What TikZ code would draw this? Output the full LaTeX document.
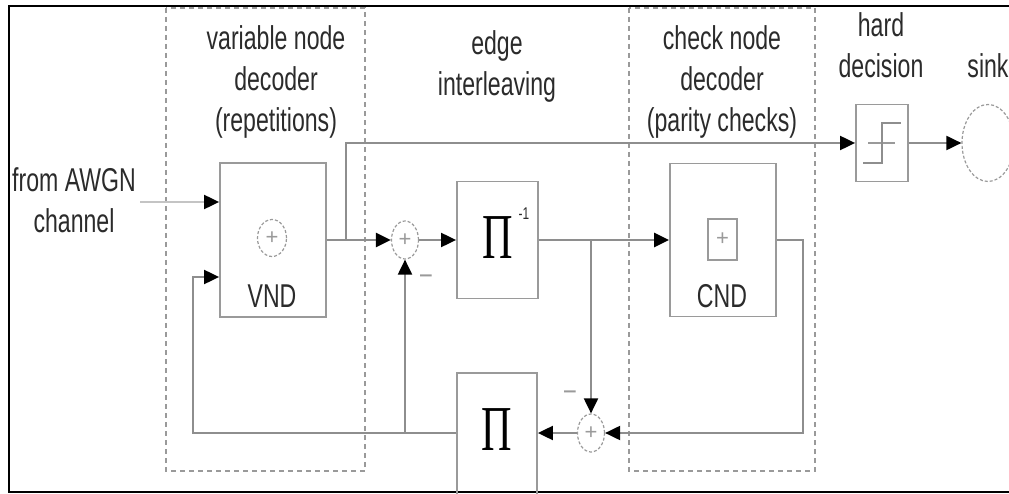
\documentclass[tikz,border=0pt]{standalone}
\usepackage{fontspec}
\usepackage{graphicx}
\setmainfont{Liberation Sans}[FakeStretch=0.70]
\newfontfamily\pifont{Liberation Serif}[FakeStretch=0.66]
\newfontfamily\plusfont{Liberation Sans}
\usetikzlibrary{shapes.geometric,arrows.meta}
\definecolor{linegray}{HTML}{8E8E8E}
\definecolor{boxgray}{HTML}{9A9A9A}
\definecolor{lightline}{HTML}{C4C4C4}
\definecolor{txt}{HTML}{2B2B2B}
\begin{document}
\begin{tikzpicture}[x=1pt,y=-1pt,
  conn/.style={draw=linegray,line width=2pt},
  arr/.style={conn,-{Triangle[black,length=15pt,width=14pt]}},
  block/.style={draw=boxgray,line width=1.8pt,rectangle,inner sep=0pt},
  sumnode/.style={ellipse,draw=boxgray,densely dashed,line width=1.2pt,minimum width=27pt,minimum height=38pt,inner sep=0pt,font=\plusfont\fontsize{22}{22}\selectfont,text=boxgray},
  group/.style={draw=boxgray,dash pattern=on 5pt off 4pt,line width=1.2pt},
  lbl/.style={text=txt,font=\fontsize{33}{41}\selectfont,align=center,inner sep=0pt,anchor=base},
  pisym/.style={text=black,font=\pifont\fontsize{64}{64}\selectfont,inner sep=0pt},
  minus/.style={text=boxgray,font=\fontsize{30}{30}\selectfont,inner sep=0pt}
]
\useasboundingbox (0,0) rectangle (1009,494);
\clip (0,0) rectangle (1009,494);
\fill[white] (0,0) rectangle (1009,494);
% frame
\draw[black,line width=2pt] (1020,6) -- (9,6) -- (9,492) -- (1020,492);
% group boxes
\draw[group] (166,8) rectangle (365,471);
\draw[group] (629,8) rectangle (815,471);
% blocks
\node[block,minimum width=106pt,minimum height=154pt] (vnd) at (273,240) {};
\node[block,minimum width=81pt,minimum height=117pt] (pinv) at (497.5,240) {};
\node[block,minimum width=106pt,minimum height=153pt] (cnd) at (723,240) {};
\node[block,minimum width=80pt,minimum height=130pt] (pi) at (497,438) {};
\node[block,minimum width=52pt,minimum height=77pt] (hd) at (882,143) {};
\node[ellipse,draw=boxgray,densely dashed,line width=1.2pt,minimum width=52pt,minimum height=77pt,inner sep=0pt] (sink) at (988,143) {};
% inner parts
\node[sumnode,minimum width=29pt,minimum height=37pt] (vsum) at (272,238) {+};
\node[lbl] (vndt) at (272,308) {VND};
\node[draw=boxgray,line width=1.5pt,minimum width=29pt,minimum height=41pt,inner sep=0pt,text=boxgray,font=\plusfont\fontsize{22}{22}\selectfont] (csum) at (722.5,239.5) {+};
\node[lbl] (cndt) at (722,308) {CND};
\node[pisym] (pinvt) at (498,238) {Π};
\node[text=txt,font=\fontsize{17}{17}\selectfont,inner sep=0pt] (expo) at (524,214) {-1};
\node[pisym] (pit) at (497,430) {Π};
\draw[draw=boxgray,line width=1.3pt] (868,143) -- (895,143);
\draw[draw=linegray,line width=1.8pt] (863,163) -- (882,163) -- (882,123) -- (901,123);
% sums
\node[sumnode] (s1) at (405,240) {+};
\node[sumnode] (s2) at (591,433) {+};
\node[minus] (m1) at (426,279) {–};
\node[minus] (m2) at (570,395) {–};
% labels (base = baseline of the last line)
\node[lbl] (vlab) at (276,132) {variable node\\decoder\\(repetitions)};
\node[lbl] (elab) at (497,96) {edge\\interleaving};
\node[lbl] (clab) at (722,132) {check node\\decoder\\(parity checks)};
\node[lbl] (hlab) at (881,78) {hard\\decision};
\node[lbl] (slab) at (988,78) {sink};
\node[lbl] (awgn) at (74,233) {from AWGN\\channel};
% connectors
\coordinate (in1) at (140,202);
\draw[conn,draw=lightline,-{Triangle[black,length=15pt,width=14pt]}] (in1) -- (in1 -| vnd.west);
\draw[arr,line width=2.6pt] (vnd.east) -- (s1.west);
\coordinate (b1) at (346,240);
\draw[arr] (b1) |- (hd.west);
\draw[arr] (hd.east) -- (sink.west);
\draw[arr] (s1.east) -- (pinv.west);
\draw[arr,line width=2.6pt] (pinv.east) -- (cnd.west);
\coordinate (b2) at (591,240);
\draw[arr] (b2) -- (s2.north);
\coordinate (c2) at (803,433);
\draw[arr] (cnd.east) -| (c2) -- (s2.east);
\draw[arr] (s2.west) -- (s2.west -| pi.east);
\coordinate (fb1) at (193,433);
\coordinate (fb2) at (193,277);
\draw[arr] (fb1 -| pi.west) -- (fb1) -- (fb2) -- (fb2 -| vnd.west);
\coordinate (b3) at (405,433);
\draw[arr] (b3) -- (s1.south);
\end{tikzpicture}
\end{document}
